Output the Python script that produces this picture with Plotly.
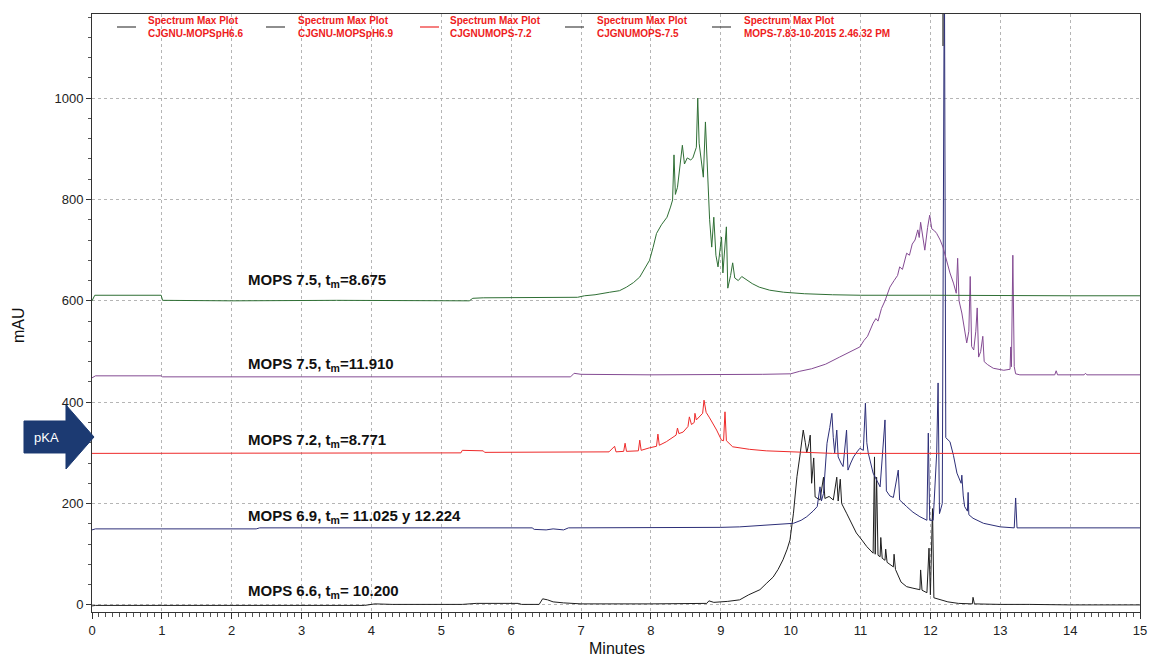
import plotly.graph_objects as go

# ---------------- data (minutes, mAU) ----------------
black_pts = [(0, -2), (0.05, -1), (1.0, -1), (3.9, -1), (4.05, 2), (4.3, 1), (5.3, 1), (5.5, 3), (6.1, 3), (6.15, 1),
             (6.4, 1), (6.45, 12), (6.52, 10), (6.6, 6), (6.75, 4), (7.0, 2), (8.0, 2), (8.8, 3), (8.83, 8), (8.9, 5),
             (9.1, 7), (9.27, 10), (9.4, 20), (9.56, 30), (9.65, 42), (9.75, 55), (9.82, 70), (9.89, 89), (9.95, 110),
             (9.99, 128), (10.04, 181), (10.09, 253), (10.13, 292), (10.18, 345), (10.21, 320), (10.23, 300),
             (10.26, 318), (10.28, 335), (10.30, 240), (10.33, 290), (10.35, 213), (10.42, 207), (10.47, 252),
             (10.49, 210), (10.55, 214), (10.61, 207), (10.66, 252), (10.68, 205), (10.71, 248), (10.73, 200),
             (10.80, 181), (10.87, 160), (10.94, 142), (11.02, 128), (11.09, 115), (11.18, 102), (11.2, 292),
             (11.21, 100), (11.23, 252), (11.25, 98), (11.28, 95), (11.29, 133), (11.31, 92), (11.35, 88),
             (11.36, 110), (11.38, 84), (11.47, 75), (11.48, 100), (11.5, 70), (11.58, 45), (11.66, 36), (11.75, 33),
             (11.85, 30), (11.86, 69), (11.88, 29), (11.95, 24), (11.98, 112), (12.0, 20), (12.03, 190), (12.05, 14),
             (12.14, 10), (12.25, 6), (12.4, 3), (12.6, 2), (12.61, 15), (12.63, 2), (13.0, 1), (13.4, 2),
             (13.42, 1), (14.0, 0), (15.0, 0)]

blue_pts = [(0, 148), (0.05, 150), (1.0, 150), (2.35, 150), (2.4, 152), (6.3, 152), (6.33, 149), (6.5, 148),
            (6.6, 150), (6.75, 148), (6.82, 152), (8.0, 152), (9.0, 153), (9.27, 154), (9.75, 158), (10.04, 161),
            (10.15, 167), (10.23, 174), (10.32, 185), (10.38, 194), (10.42, 233), (10.44, 205), (10.47, 220),
            (10.50, 285), (10.52, 319), (10.56, 350), (10.59, 378), (10.61, 330), (10.63, 300), (10.66, 345),
            (10.68, 292), (10.72, 280), (10.75, 273), (10.80, 345), (10.82, 266), (10.86, 280), (10.90, 292),
            (10.95, 302), (10.99, 309), (11.04, 305), (11.07, 398), (11.09, 320), (11.11, 300), (11.18, 260),
            (11.23, 245), (11.28, 233), (11.35, 365), (11.37, 225), (11.42, 215), (11.47, 212), (11.54, 266),
            (11.56, 207), (11.66, 194), (11.75, 183), (11.85, 174), (11.95, 167), (11.97, 339), (11.99, 167),
            (12.04, 167), (12.09, 300), (12.11, 438), (12.13, 180), (12.17, 200), (12.2, 1300), (12.22, 330),
            (12.28, 322), (12.33, 295), (12.38, 260), (12.44, 240), (12.45, 256), (12.47, 215), (12.49, 194),
            (12.53, 185), (12.54, 222), (12.55, 178), (12.61, 171), (12.76, 161), (13.0, 154), (13.2, 152),
            (13.22, 211), (13.24, 152), (13.5, 152), (14.0, 152), (15.0, 152)]

red_pts = [(0, 299), (5.28, 300), (5.3, 305), (5.6, 304), (5.62, 301), (7.0, 302), (7.4, 302), (7.48, 313),
           (7.5, 302), (7.61, 303), (7.63, 319), (7.65, 303), (7.82, 304), (7.84, 325), (7.86, 305), (7.98, 310),
           (8.08, 313), (8.1, 337), (8.12, 315), (8.22, 322), (8.36, 335), (8.38, 349), (8.4, 338), (8.46, 341),
           (8.53, 352), (8.55, 371), (8.58, 356), (8.62, 360), (8.63, 378), (8.65, 365), (8.74, 378), (8.76, 404),
           (8.79, 380), (8.84, 369), (8.94, 345), (9.01, 325), (9.04, 324), (9.06, 381), (9.08, 324), (9.17, 312),
           (9.41, 307), (9.65, 304), (10.3, 301), (10.6, 299), (15.0, 299)]

purple_pts = [(0, 448), (0.05, 452), (0.99, 452), (1.01, 450), (3.0, 450), (6.85, 450), (6.9, 457), (7.0, 455),
              (8.0, 454), (9.0, 454), (9.6, 455), (10.0, 456), (10.13, 461), (10.3, 466), (10.5, 475), (10.7, 489),
              (10.85, 500), (10.99, 509), (11.05, 522), (11.1, 530), (11.18, 556), (11.22, 565), (11.25, 560),
              (11.3, 585), (11.35, 600), (11.42, 627), (11.48, 640), (11.53, 650), (11.56, 667), (11.6, 662),
              (11.66, 694), (11.7, 690), (11.74, 712), (11.78, 720), (11.82, 740), (11.84, 725), (11.86, 755),
              (11.89, 725), (11.92, 700), (11.96, 745), (11.99, 769), (12.02, 742), (12.06, 738), (12.09, 733),
              (12.14, 720), (12.18, 706), (12.23, 680), (12.28, 655), (12.33, 635), (12.37, 615), (12.39, 684),
              (12.41, 600), (12.45, 576), (12.52, 517), (12.55, 540), (12.57, 648), (12.59, 510), (12.62, 503),
              (12.65, 540), (12.67, 586), (12.69, 489), (12.72, 500), (12.75, 530), (12.77, 480), (12.82, 474),
              (12.9, 467), (13.05, 463), (13.14, 465), (13.15, 509), (13.16, 470), (13.18, 690), (13.2, 470),
              (13.22, 456), (13.28, 454), (13.78, 454), (13.8, 462), (13.82, 454), (14.2, 454), (14.22, 457),
              (14.24, 454), (15.0, 454)]

green_pts = [(0, 600), (0.04, 611), (0.99, 611), (1.01, 601), (2.0, 600), (3.5, 601), (5.4, 600), (5.45, 605),
             (5.6, 606), (6.5, 606), (6.95, 607), (7.05, 610), (7.2, 612), (7.41, 617), (7.55, 620), (7.65, 627),
             (7.75, 636), (7.84, 647), (7.92, 665), (7.98, 680), (8.03, 705), (8.08, 733), (8.15, 750), (8.23, 765),
             (8.28, 785), (8.31, 799), (8.33, 888), (8.35, 810), (8.38, 824), (8.42, 870), (8.45, 907), (8.48, 870),
             (8.52, 882), (8.57, 878), (8.60, 882), (8.65, 903), (8.67, 1000), (8.69, 911), (8.72, 880),
             (8.75, 844), (8.78, 953), (8.81, 850), (8.84, 760), (8.87, 706), (8.90, 765), (8.93, 690), (8.96, 667),
             (9.01, 726), (9.03, 655), (9.08, 746), (9.10, 625), (9.14, 650), (9.17, 675), (9.2, 645), (9.25, 640),
             (9.3, 648), (9.37, 641), (9.45, 634), (9.55, 627), (9.7, 621), (9.9, 617), (10.2, 614), (10.6, 612),
             (11.0, 611), (12.0, 611), (13.0, 610), (14.0, 610), (15.0, 610)]

series_names = ["CJGNU-MOPSpH6.6", "CJGNU-MOPSpH6.9", "CJGNUMOPS-7.2", "CJGNUMOPS-7.5",
                "MOPS-7.83-10-2015 2.46.32 PM"]

label_texts = ["MOPS 7.5, t<sub>m</sub>=8.675", "MOPS 7.5, t<sub>m</sub>=11.910", "MOPS 7.2, t<sub>m</sub>=8.771",
               "MOPS 6.9, t<sub>m</sub>= 11.025 y 12.224", "MOPS 6.6, t<sub>m</sub>= 10.200"]
label_y = [641, 475, 325, 174, 26]

x_ticks = list(range(0, 16))
y_ticks = [0, 200, 400, 600, 800, 1000]

# ---------------- figure ----------------
FONT = "Liberation Sans, Arial, sans-serif"
W, H = 1149, 656
L, R, T, B = 92, 9, 14, 44
PW, PH = W - L - R, H - T - B


def px(xp):
    return (xp - L) / PW


def py(yp):
    return (H - B - yp) / PH


fig = go.Figure()
series = [(black_pts, "#1e1e1e"), (blue_pts, "#2d2f78"), (red_pts, "#ee2a2a"),
          (purple_pts, "#844b93"), (green_pts, "#2f6f35")]
for pts, col in series:
    fig.add_trace(go.Scatter(x=[p[0] for p in pts], y=[p[1] for p in pts], mode="lines",
                             line=dict(color=col, width=1), showlegend=False, hoverinfo="skip"))

annotations = []
shapes = []
for txt, yv in zip(label_texts, label_y):
    annotations.append(dict(x=2.204, y=yv, xref="x", yref="y", text="<b>" + txt + "</b>", showarrow=False,
                            xanchor="left", yanchor="middle", font=dict(family=FONT, size=15, color="#111")))

# legend (custom)
leg_line_x = [117, 266, 420, 565, 712]
leg_text_x = [146, 296, 448, 595, 742]
leg_cols = ["#444", "#444", "#ee2a2a", "#444", "#444"]
for name, lx, tx, c in zip(series_names, leg_line_x, leg_text_x, leg_cols):
    shapes.append(dict(type="line", xref="paper", yref="paper", x0=px(lx), x1=px(lx + 19), y0=py(27), y1=py(27),
                       line=dict(color=c, width=1.2)))
    annotations.append(dict(x=px(tx), y=py(27), xref="paper", yref="paper",
                            text="<b>Spectrum Max Plot<br>" + name + "</b>", showarrow=False, align="left",
                            xanchor="left", yanchor="middle", font=dict(family=FONT, size=10, color="#ee1c1c")))
shapes.append(dict(type="line", xref="paper", yref="paper", x0=px(943), x1=px(943), y0=py(14), y1=py(46),
                   line=dict(color="#555", width=1.5)))

# pKA arrow
arrow = [(24, 421), (66, 421), (66, 405), (94, 437), (66, 469), (66, 453), (24, 453)]
path = "M " + " L ".join(f"{px(a):.5f},{py(b):.5f}" for a, b in arrow) + " Z"
shapes.append(dict(type="path", xref="paper", yref="paper", path=path, fillcolor="#1c3a72",
                   line=dict(color="#1c3a72", width=1)))
annotations.append(dict(x=px(46), y=py(437), xref="paper", yref="paper", text="pKA", showarrow=False,
                        font=dict(family=FONT, size=13, color="white"), xanchor="center", yanchor="middle"))

# axis titles
annotations.append(dict(x=px(617), y=py(648), xref="paper", yref="paper", text="Minutes", showarrow=False,
                        font=dict(family=FONT, size=16, color="#111"), xanchor="center", yanchor="middle"))
annotations.append(dict(x=px(18), y=py(325), xref="paper", yref="paper", text="mAU", showarrow=False, textangle=-90,
                        font=dict(family=FONT, size=16, color="#111"), xanchor="center", yanchor="middle"))

fig.update_layout(
    width=W, height=H, margin=dict(l=L, r=R, t=T, b=B, pad=0, autoexpand=False),
    paper_bgcolor="white", plot_bgcolor="white",
    font=dict(family=FONT, size=13, color="#222"),
    annotations=annotations, shapes=shapes,
    xaxis=dict(range=[0, 15], tickvals=x_ticks, ticktext=[str(v) for v in x_ticks], automargin=False,
               showgrid=True, gridcolor="#b5b5b5", griddash="dot", gridwidth=1,
               showline=True, linecolor="#333", linewidth=1, mirror=True,
               ticks="outside", ticklen=6, tickcolor="#333",
               minor=dict(dtick=0.1, ticks="outside", ticklen=4, tickcolor="#555", showgrid=False),
               zeroline=False, tickfont=dict(size=13, color="#222")),
    yaxis=dict(range=[-14, 1166], tickvals=y_ticks, ticktext=[str(v) for v in y_ticks], automargin=False,
               showgrid=True, gridcolor="#b5b5b5", griddash="dot", gridwidth=1,
               showline=True, linecolor="#333", linewidth=1, mirror=True,
               ticks="outside", ticklen=5, tickcolor="#333",
               minor=dict(dtick=40, ticks="outside", ticklen=3, tickcolor="#555", showgrid=False),
               zeroline=False, tickfont=dict(size=13, color="#222")),
)

fig.write_html("out.html")
